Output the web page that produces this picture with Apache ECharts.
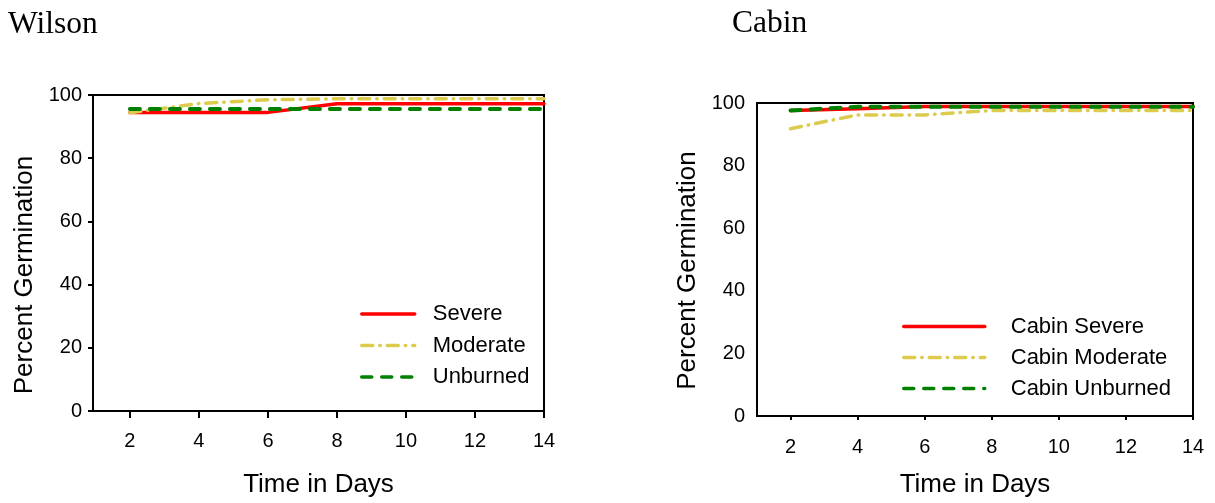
<!DOCTYPE html>
<html>
<head>
<meta charset="utf-8">
<script src="https://cdn.jsdelivr.net/npm/echarts@6/dist/echarts.min.js"></script>
<style>html,body{margin:0;padding:0;background:#fff;}#c{width:1215px;height:503px;}</style>
</head>
<body>
<div id="c"></div>
<script>
const days = [2, 4, 6, 8, 10, 12, 14];
const xTicks = [2, 4, 6, 8, 10, 12, 14];
const wilsonSevere = [94.5, 94.5, 94.5, 97.2, 97.2, 97.2, 97.2];
const wilsonModerate = [94.4, 97.3, 98.5, 98.8, 98.8, 98.8, 98.8];
const wilsonUnburned = [95.6, 95.6, 95.6, 95.6, 95.6, 95.6, 95.6];
const cabinSevere = [97.6, 98.2, 98.9, 98.9, 98.9, 98.9, 98.9];
const cabinModerate = [91.8, 96.2, 96.2, 97.6, 97.6, 97.6, 97.6];
const cabinUnburned = [97.6, 98.8, 98.8, 98.8, 98.8, 98.8, 98.8];

const RED = '#FF0000', YEL = '#DCCB4C', GRN = '#008000';
const SANS = 'Liberation Sans, Arial, sans-serif';
const SERIF = 'Liberation Serif, Times New Roman, serif';
const pts = arr => days.map((d, i) => [d, arr[i]]);

function xAx(gi, min, tickLen, margin, gap) {
  return {
    type: 'value', gridIndex: gi, min: min, max: 14,
    name: 'Time in Days', nameLocation: 'middle', nameGap: gap,
    nameTextStyle: {fontFamily: SANS, fontSize: 26, color: '#000'},
    axisLine: {show: true, onZero: false, lineStyle: {color: '#000', width: 2}},
    axisTick: {show: true, customValues: xTicks, length: tickLen, lineStyle: {color: '#000', width: 2}},
    axisLabel: {customValues: xTicks, fontFamily: SANS, fontSize: 20, color: '#000', margin: margin},
    splitLine: {show: false}
  };
}
function yAx(gi, ticks, margin, gap, pad) {
  return {
    type: 'value', gridIndex: gi, min: 0, max: 100, interval: 20,
    name: 'Percent Germination', nameLocation: 'middle', nameGap: gap, nameRotate: 90,
    nameTextStyle: {fontFamily: SANS, fontSize: 26, color: '#000', padding: pad},
    axisLine: {show: true, lineStyle: {color: '#000', width: 2}},
    axisTick: {show: ticks, length: 5, lineStyle: {color: '#000', width: 2}},
    axisLabel: {fontFamily: SANS, fontSize: 20, color: '#000', margin: margin},
    splitLine: {show: false}
  };
}
function ser(name, data, gi, color, type, width) {
  return {
    name: name, type: 'line', xAxisIndex: gi, yAxisIndex: gi, data: pts(data),
    symbol: 'none', smooth: false, silent: true,
    lineStyle: {color: color, width: width, type: type, cap: 'round'},
    itemStyle: {color: color}
  };
}
const DASHDOT = [11, 7, 0.5, 7];
const DASH = [10, 10];

const legendCommon = {
  orient: 'vertical', padding: 0, itemHeight: 14, selectedMode: false,
  itemStyle: {opacity: 0},
  lineStyle: {width: 3.5, cap: 'round'}
};

const option = {
  animation: false,
  backgroundColor: '#fff',
  title: [
    {text: 'Wilson', left: 8, top: 9, padding: 0,
     textStyle: {fontFamily: SERIF, fontSize: 31.5, fontWeight: 'normal', color: '#000'}},
    {text: 'Cabin', left: 732, top: 8, padding: 0,
     textStyle: {fontFamily: SERIF, fontSize: 31.5, fontWeight: 'normal', color: '#000'}}
  ],
  grid: [
    {left: 93, top: 95, right: 671, bottom: 90, show: true, borderColor: '#000', borderWidth: 2, backgroundColor: 'transparent'},
    {left: 757, top: 103, right: 22, bottom: 84, show: true, borderColor: '#000', borderWidth: 2, backgroundColor: 'transparent'}
  ],
  xAxis: [xAx(0, 0.93, 7, 20, 61), xAx(1, 1, 4, 21, 56)],
  yAxis: [yAx(0, true, 11, 55, [0, 44, 0, 0]), yAx(1, false, 12, 56, [0, 22, 0, 0])],
  legend: [
    Object.assign({}, legendCommon, {
      left: 360, top: 303, itemWidth: 53, itemGap: 9.5,
      textStyle: {fontFamily: SANS, fontSize: 22, color: '#000', padding: [0, 0, 0, 13]},
      data: ['Severe', 'Moderate', 'Unburned']}),
    Object.assign({}, legendCommon, {
      left: 902, top: 315.5, itemWidth: 81, itemGap: 9,
      textStyle: {fontFamily: SANS, fontSize: 22, color: '#000', padding: [0, 0, 0, 21]},
      data: ['Cabin Severe', 'Cabin Moderate', 'Cabin Unburned']})
  ],
  series: [
    ser('Severe', wilsonSevere, 0, RED, 'solid', 3.5),
    ser('Moderate', wilsonModerate, 0, YEL, DASHDOT, 3.5),
    ser('Unburned', wilsonUnburned, 0, GRN, DASH, 4),
    ser('Cabin Severe', cabinSevere, 1, RED, 'solid', 3.5),
    ser('Cabin Moderate', cabinModerate, 1, YEL, DASHDOT, 3.5),
    ser('Cabin Unburned', cabinUnburned, 1, GRN, DASH, 4)
  ]
};
const chart = echarts.init(document.getElementById('c'), null, {renderer: 'canvas'});
chart.setOption(option);
</script>
</body>
</html>
